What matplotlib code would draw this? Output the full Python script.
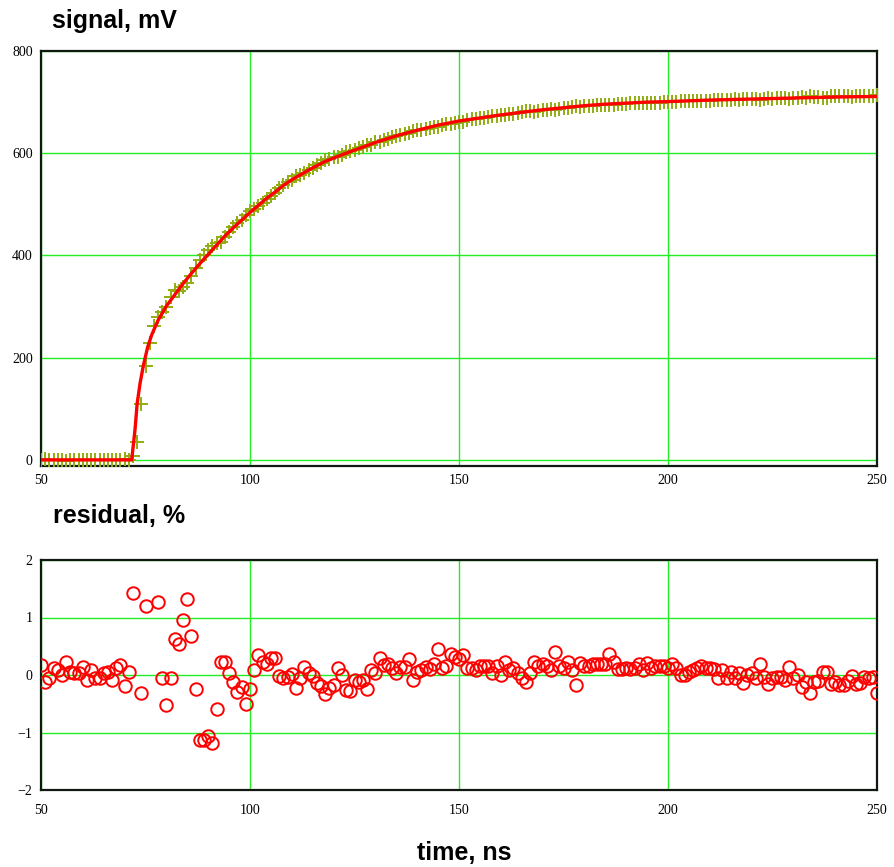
import numpy as np
import matplotlib
matplotlib.use("Agg")
import matplotlib.pyplot as plt

# ---------------- data ----------------
t_start, t_end = 50, 250
time_ns = np.arange(t_start, t_end + 1)

# measured signal (mV), one value per ns from 50 to 250
signal_mV = [
    -1.2, 0.9, 0.4, -0.9, -0.6, 0.0, -1.6, -0.4, -0.2, -0.2,          # 50-59
    -1.0, 0.6, -0.6, 0.4, 0.4, -0.2, -0.4, 0.6, -0.9, -1.2,           # 60-69
    1.3, -0.4, 8, 35, 110, 184, 228, 262, 280, 290,                   # 70-79
    300, 318, 333, 330, 338, 346, 360, 376, 392, 401,                 # 80-89
    410, 419, 424, 427, 436, 446, 455, 464, 470, 480,                 # 90-99
    486, 490, 496, 503, 511, 516, 522, 531, 537, 543,                 # 100-109
    548, 555, 558, 561, 567, 571, 577, 581, 586, 589,                 # 110-119
    592, 593, 597, 602, 605, 607, 610, 613, 617, 617,                 # 120-129
    621, 621, 625, 628, 631, 634, 635, 638, 639, 644,                 # 130-139
    645, 646, 648, 650, 652, 652, 656, 657, 657, 659,                 # 140-149
    661, 662, 665, 666, 667, 668, 669, 670, 672, 673,                 # 150-159
    675, 674, 676, 677, 679, 680, 682, 682, 681, 683,                 # 160-169
    684, 685, 686, 685, 687, 688, 688, 690, 693, 691,                 # 170-179
    692, 692, 693, 694, 694, 695, 694, 695, 696, 697,                 # 180-189
    697, 698, 698, 698, 699, 698, 699, 699, 699, 700,                 # 190-199
    700, 700, 701, 702, 702, 702, 702, 702, 702, 703,                 # 200-209
    703, 704, 705, 704, 705, 705, 706, 705, 707, 706,                 # 210-219
    706, 707, 705, 707, 708, 707, 708, 708, 708, 707,                 # 220-229
    708, 708, 710, 709, 711, 710, 710, 709, 709, 711,                 # 230-239
    711, 711, 711, 711, 710, 712, 712, 711, 711, 711,                 # 240-249
    713,                                                              # 250
]

# fitted curve (mV)
fit_t = [50, 71.7, 72.5, 73, 73.7, 74.5, 75.5, 76.5, 78, 80, 82, 84, 86,
         88, 90, 92, 94, 96, 98, 100, 102, 104, 106, 108, 110, 114, 118,
         122, 126, 130, 135, 140, 145, 150, 155, 160, 165, 170, 175, 180,
         185, 190, 195, 200, 210, 220, 230, 240, 250]
fit_mV = [0, 0, 60, 110, 150, 185, 220, 245, 273, 301, 323, 345, 365,
          384, 402, 420, 438, 454, 469, 484, 498, 512, 524, 537, 548, 567,
          584, 597, 609, 621, 634, 645, 655, 663, 669, 675, 680, 685, 689,
          693, 696, 698, 700, 701, 704, 706, 708, 710, 711]

# residual (%), one value per ns from 50 to 250
nan = np.nan
residual_pct = [
    0.17, -0.12, -0.06, 0.12, 0.09, 0.00, 0.23, 0.06, 0.03, 0.03,     # 50-59
    0.14, -0.09, 0.09, -0.06, -0.06, 0.03, 0.06, -0.09, 0.12, 0.17,   # 60-69
    -0.19, 0.06, 1.42, nan, -0.31, 1.20, nan, nan, 1.27, -0.06,       # 70-79
    -0.53, -0.06, 0.62, 0.54, 0.95, 1.33, 0.68, -0.25, -1.13, -1.13,  # 80-89
    -1.06, -1.18, -0.59, 0.23, 0.23, 0.03, -0.12, -0.29, -0.20, -0.50,  # 90-99
    -0.25, 0.09, 0.35, 0.23, 0.20, 0.29, 0.29, -0.02, -0.06, -0.03,   # 100-109
    0.02, -0.23, -0.06, 0.14, 0.03, -0.02, -0.14, -0.19, -0.33, -0.23,  # 110-119
    -0.17, 0.12, 0.00, -0.26, -0.28, -0.08, -0.13, -0.08, -0.25, 0.09,  # 120-129
    0.03, 0.29, 0.17, 0.20, 0.13, 0.03, 0.14, 0.14, 0.27, -0.09,      # 130-139
    0.06, 0.09, 0.14, 0.10, 0.19, 0.45, 0.13, 0.16, 0.36, 0.31,       # 140-149
    0.27, 0.35, 0.12, 0.13, 0.09, 0.16, 0.16, 0.16, 0.03, 0.16,       # 150-159
    0.00, 0.23, 0.09, 0.12, 0.03, -0.06, -0.13, 0.03, 0.23, 0.16,     # 160-169
    0.19, 0.16, 0.09, 0.40, 0.16, 0.12, 0.23, 0.09, -0.17, 0.21,      # 170-179
    0.16, 0.16, 0.19, 0.19, 0.19, 0.19, 0.36, 0.23, 0.10, 0.10,       # 180-189
    0.13, 0.10, 0.13, 0.19, 0.09, 0.21, 0.13, 0.16, 0.16, 0.16,       # 190-199
    0.12, 0.19, 0.12, 0.00, 0.00, 0.06, 0.09, 0.13, 0.16, 0.13,       # 200-209
    0.12, 0.10, -0.06, 0.09, -0.06, 0.06, -0.06, 0.03, -0.14, 0.00,   # 210-219
    0.04, -0.06, 0.20, -0.03, -0.16, -0.06, -0.04, -0.04, -0.09, 0.14,  # 220-229
    -0.06, 0.00, -0.21, -0.12, -0.31, -0.12, -0.10, 0.06, 0.06, -0.16,  # 230-239
    -0.13, -0.17, -0.17, -0.10, -0.02, -0.16, -0.14, -0.04, -0.06, -0.04,  # 240-249
    -0.31,                                                            # 250
]

x_ticks = [50, 100, 150, 200, 250]
sig_ticks = [0, 200, 400, 600, 800]
res_ticks = [-2, -1, 0, 1, 2]

# ---------------- style ----------------
W, H = 894, 867
fig = plt.figure(figsize=(W / 100, H / 100), dpi=100)
fig.patch.set_facecolor("white")

grid_col = "#22ee22"
frame_col = "#111811"
tick_font = "Liberation Serif"
title_font = "Liberation Sans"


def fx(px):
    return px / W


def fy(py):
    return 1 - py / H


def style_axes(ax):
    ax.set_facecolor("white")
    ax.grid(True, color=grid_col, lw=1.0)
    ax.set_axisbelow(True)
    for s in ax.spines.values():
        s.set_color(frame_col)
        s.set_linewidth(1.6)
    ax.tick_params(length=0, pad=6, labelsize=10, colors="black")
    for lab in ax.get_xticklabels() + ax.get_yticklabels():
        lab.set_fontfamily(tick_font)


# top axes
ax1 = fig.add_axes([fx(41), fy(466), fx(877 - 41), (466 - 51) / H])
ax1.plot(time_ns, signal_mV, ls="none", marker="+", ms=10, mew=1.4,
         color="#8fae10", zorder=3)
ax1.plot(fit_t, fit_mV, color="#ff0000", lw=2.4, zorder=4)
ax1.set_xlim(t_start, t_end)
ax1.set_ylim(-12, 800)
ax1.set_xticks(x_ticks)
ax1.set_yticks(sig_ticks)
style_axes(ax1)
ax1.tick_params(axis="x", pad=6)

# bottom axes
ax2 = fig.add_axes([fx(41), fy(790), fx(877 - 41), (790 - 560) / H])
ax2.plot(time_ns, residual_pct, ls="none", marker="o", ms=9,
         mfc="none", mec="#ff0000", mew=1.4, zorder=3)
ax2.set_xlim(t_start, t_end)
ax2.set_ylim(-2, 2)
ax2.set_xticks(x_ticks)
ax2.set_yticks(res_ticks)
style_axes(ax2)
ax2.tick_params(axis="x", pad=10)

# titles
fig.text(fx(52), fy(28), "signal, mV", fontfamily=title_font,
         fontweight="bold", fontsize=18, ha="left", va="baseline")
fig.text(fx(53), fy(523), "residual, %", fontfamily=title_font,
         fontweight="bold", fontsize=18, ha="left", va="baseline")
fig.text(fx(464), fy(860), "time, ns", fontfamily=title_font,
         fontweight="bold", fontsize=18, ha="center", va="baseline")

fig.savefig("out.png", dpi=100)
